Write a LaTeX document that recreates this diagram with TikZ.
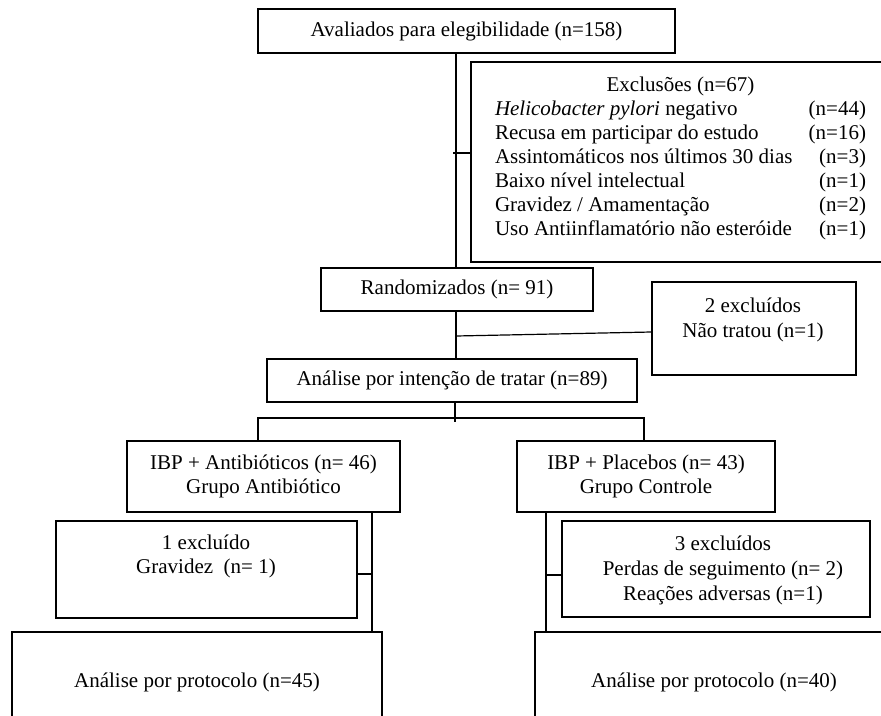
\documentclass[tikz,border=0pt]{standalone}
\usepackage{fontspec}
\setmainfont{Liberation Serif}
\begin{document}
\begin{tikzpicture}[x=1pt,y=-1pt,
  box/.style={draw, line width=1.2pt, rectangle, inner sep=0pt, align=center, font=\fontsize{21}{25}\selectfont},
  txt/.style={inner sep=0pt, align=center, font=\fontsize{21}{25}\selectfont},
  conn/.style={line width=1.2pt}]
\useasboundingbox (0,0) rectangle (881,715);
\clip (0,0) rectangle (881,715);
% boxes
\node[box, minimum width=417, minimum height=44] (aval) at (466.5,31) {Avaliados para elegibilidade (n=158)};
\node[box, minimum width=429, minimum height=200] (excl) at (685.5,162) {};
\node[txt, font=\fontsize{21}{24}\selectfont] (excltxt) at (680.5,158.5) {%
\begin{tabular*}{371pt}{@{}l@{\extracolsep{\fill}}r@{}}
\multicolumn{2}{c}{Exclusões (n=67)}\\
\textit{Helicobacter pylori} negativo & (n=44)\\
Recusa em participar do estudo & (n=16)\\
Assintomáticos nos últimos 30 dias & (n=3)\\
Baixo nível intelectual & (n=1)\\
Gravidez / Amamentação & (n=2)\\
Uso Antiinflamatório não esteróide & (n=1)
\end{tabular*}};
\node[box, minimum width=272, minimum height=43] (rand) at (457,289.5) {Randomizados (n= 91)};
\node[box, minimum width=204, minimum height=93] (exc2) at (754,328.5) {};
\node[txt] (exc2t) at (753,319.5) {2 excluídos\\Não tratou (n=1)};
\node[box, minimum width=370, minimum height=43] (anal) at (452,380.5) {Análise por intenção de tratar (n=89)};
\node[box, minimum width=273, minimum height=71, font=\fontsize{21}{23.5}\selectfont] (ibpl) at (263.5,476.5) {IBP + Antibióticos (n= 46)\\Grupo Antibiótico};
\node[box, minimum width=258, minimum height=71, font=\fontsize{21}{23.5}\selectfont] (ibpr) at (646,476.5) {IBP + Placebos (n= 43)\\Grupo Controle};
\node[box, minimum width=301, minimum height=97] (exc1) at (206.5,569.5) {};
\node[txt, font=\fontsize{21}{24}\selectfont] (exc1t) at (206,556) {1 excluído\\Gravidez\ \ (n= 1)};
\node[box, minimum width=308, minimum height=96] (exc3) at (716,569) {};
\node[txt] (exc3t) at (723,570) {3 excluídos\\Perdas de seguimento (n= 2)\\Reações adversas (n=1)};
\node[box, minimum width=370, minimum height=100] (bl) at (197,682) {Análise por protocolo (n=45)};
\node[box, minimum width=358, minimum height=100] (br) at (714,682) {Análise por protocolo (n=40)};
% helper coordinates
\coordinate (m) at (456,0);
\coordinate (m2) at (455,0);
\coordinate (t1) at (453,153);
\coordinate (c2) at (456,336);
\coordinate (hl) at (258,418);
\coordinate (hr) at (644,418);
\coordinate (vl) at (372,0);
\coordinate (vr) at (546,0);
\coordinate (t3) at (372,574);
\coordinate (t4) at (546,575);
% connectors
\draw[conn] (aval.south -| m) -- (rand.north -| m);
\draw[conn] (t1) -- (t1 -| excl.west);
\draw[conn] (rand.south -| m) -- (anal.north -| m);
\draw[conn] (c2) -- ([yshift=-3.5pt]exc2.west);
\draw[conn] (anal.south -| m2) -- ++(0,19);
\draw[conn] (ibpl.north -| hl) -- (hl) -- (hr) -- (ibpr.north -| hr);
\draw[conn] (ibpl.south -| vl) -- (bl.north -| vl);
\draw[conn] (t3) -- (t3 -| exc1.east);
\draw[conn] (ibpr.south -| vr) -- (br.north -| vr);
\draw[conn] (t4) -- (t4 -| exc3.west);
\end{tikzpicture}
\end{document}
